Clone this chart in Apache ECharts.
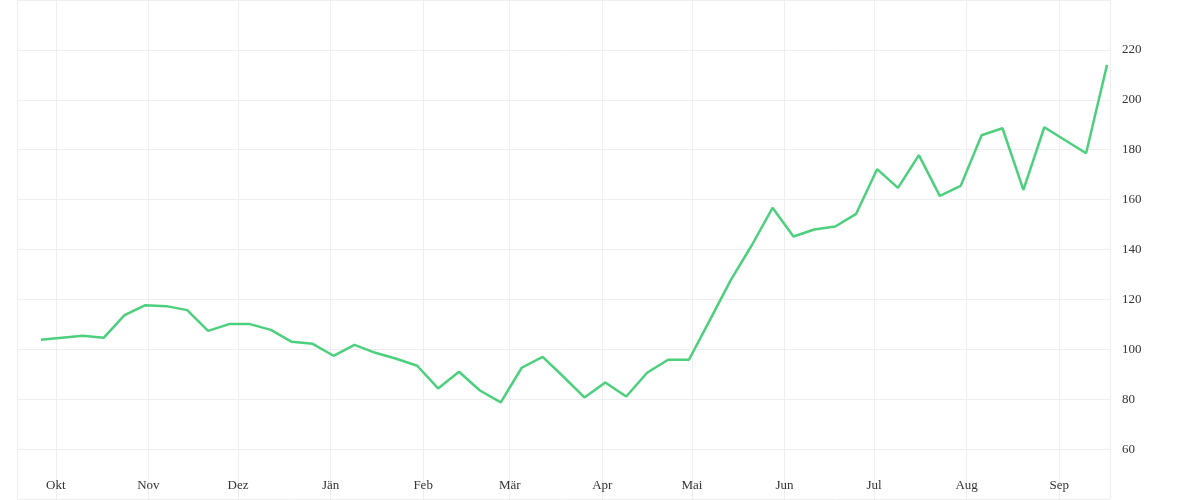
<!DOCTYPE html><html><head><meta charset="utf-8"><script src="https://cdn.jsdelivr.net/npm/echarts@6/dist/echarts.min.js"></script></head><body style="margin:0"><div id="c" style="width:1200px;height:500px"></div><script>
const startDate = '2023-09-26';
const values = [103.8,104.6,105.4,104.6,113.7,117.7,117.3,115.7,107.4,110.1,110.1,107.8,103,102.2,97.4,101.8,98.6,96.2,93.4,84.3,91,83.5,78.7,92.6,97,89,80.7,86.7,81.1,90.6,95.8,95.8,111.7,127.7,141.6,156.7,145.2,148,149.2,154.3,172.2,164.7,177.8,161.5,165.5,185.8,188.6,163.9,189,183.8,178.6,214];
const monthNames = ['Jän','Feb','Mär','Apr','Mai','Jun','Jul','Aug','Sep','Okt','Nov','Dez'];
const DAY = 86400000;
const t0 = Date.UTC(2023,8,26);
const data = values.map((v,i)=>[t0+i*7*DAY, v]);
const font = '"Liberation Serif", "DejaVu Serif", serif';
const chart = echarts.init(document.getElementById('c'));
chart.setOption({
  animation:false,
  grid:{left:17,right:90,top:-3,bottom:1},
  xAxis:{type:'time',min:t0-8*DAY,max:t0+51*7*DAY+1*DAY,minInterval:28*DAY,maxInterval:31*DAY,
    axisLine:{show:false},axisTick:{show:false},
    axisLabel:{formatter:v=>monthNames[new Date(v).getUTCMonth()],color:'#333',fontFamily:font,fontSize:13,margin:-20},
    splitLine:{show:true,lineStyle:{color:'#eeeeee'}}},
  yAxis:{type:'value',position:'right',min:40,max:240,interval:20,
    axisLine:{show:false},axisTick:{show:false},
    axisLabel:{showMinLabel:false,showMaxLabel:false,color:'#333',fontFamily:font,fontSize:13,margin:12},
    splitLine:{lineStyle:{color:'#eeeeee'}}},
  series:[{type:'line',data:data,showSymbol:false,lineStyle:{color:'#4cd07d',width:2.5},itemStyle:{color:'#4cd07d'}}]
});
</script></body></html>
